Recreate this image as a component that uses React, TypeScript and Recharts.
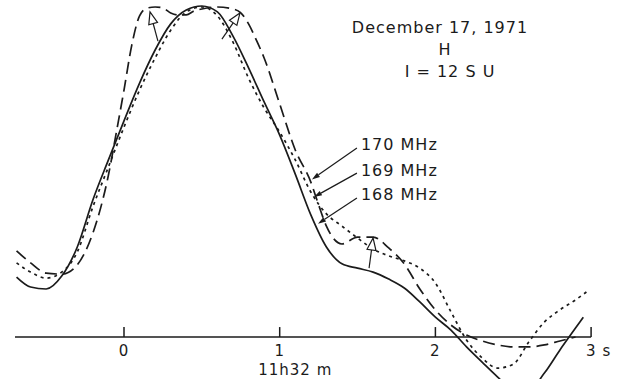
import React from 'react';
import {
    LineChart,
    Line,
    XAxis,
    YAxis,
    ReferenceLine,
    ReferenceDot
} from 'recharts';

// time after 11h32m (s) and relative intensity
const time168 = [-0.69, -0.6, -0.5, -0.4, -0.3, -0.2, -0.1, 0, 0.1, 0.2, 0.3, 0.4, 0.5, 0.6, 0.7, 0.8, 0.9, 1.0, 1.1, 1.2, 1.3, 1.4, 1.5, 1.6, 1.7, 1.8, 1.9, 2.0, 2.1, 2.2, 2.3, 2.4, 2.5, 2.6, 2.7, 2.8, 2.9, 2.95];
const mhz168 = [18.1, 15.1, 14.5, 18.4, 27.2, 41.4, 53.5, 65.3, 76.7, 86.7, 94.6, 98.8, 100, 98.2, 90.9, 81.3, 71.0, 61.0, 49.2, 36.9, 27.2, 22.1, 20.8, 19.6, 17.5, 14.8, 10.6, 6.0, 2.1, -3.0, -7.6, -12.1, -16.0, -16.0, -10.9, -3.9, 2.7, 6.0];

const time169 = [-0.69, -0.6, -0.5, -0.4, -0.3, -0.2, -0.1, 0, 0.1, 0.2, 0.3, 0.4, 0.5, 0.6, 0.7, 0.8, 0.9, 1.0, 1.1, 1.2, 1.3, 1.4, 1.5, 1.6, 1.7, 1.8, 1.9, 2.0, 2.1, 2.2, 2.3, 2.4, 2.5, 2.6, 2.7, 2.8, 2.9, 2.97];
const mhz169 = [22.4, 19.6, 17.8, 19.6, 25.7, 39.3, 51.4, 63.4, 74.6, 84.3, 92.7, 98.2, 99.7, 97.0, 89.1, 78.2, 69.2, 61.9, 53.5, 43.8, 37.2, 33.5, 29.9, 26.6, 24.5, 23.0, 20.8, 16.3, 7.6, -0.9, -6.3, -9.4, -8.2, -1.5, 4.5, 8.2, 11.2, 13.6];

const time170 = [-0.69, -0.6, -0.5, -0.4, -0.3, -0.2, -0.15, -0.1, -0.05, 0, 0.05, 0.1, 0.15, 0.2, 0.25, 0.3, 0.35, 0.4, 0.45, 0.5, 0.6, 0.7, 0.75, 0.8, 0.85, 0.9, 1.0, 1.1, 1.2, 1.25, 1.3, 1.4, 1.5, 1.6, 1.7, 1.8, 1.9, 2.0, 2.1, 2.2, 2.3, 2.4, 2.5, 2.6, 2.7, 2.8, 2.9];
const mhz170 = [26.0, 22.4, 19.3, 19.0, 21.8, 31.4, 39.0, 48.9, 61.6, 74.6, 88.2, 97.0, 99.4, 99.7, 99.4, 97.9, 97.3, 97.3, 98.5, 99.1, 99.7, 99.1, 97.9, 94.6, 89.7, 84.3, 70.4, 56.5, 46.8, 39.9, 33.5, 28.1, 30.2, 30.2, 26.9, 22.1, 14.5, 8.2, 3.6, 0.6, -1.2, -2.4, -3.0, -3.0, -2.4, -1.2, 0];

const tickValues = [0, 1, 2, 3];
const tickLabels = ['0', '1', '2', '3 s'];
const timeOrigin = '11h32 m';

const freqLabels = ['170 MHz', '169 MHz', '168 MHz'];
// leader line: label end (t, I) -> point on the curve (t, I)
const leaderFrom = [[1.496, 57.1], [1.496, 49.5], [1.496, 42.0]];
const leaderTo = [[1.207, 47.6], [1.22, 42.3], [1.246, 34.2]];

// open arrows marking the maxima
const peakArrowFrom = [[0.218, 89.4], [0.629, 90.0], [1.574, 20.8]];
const peakArrowTo = [[0.167, 98.2], [0.745, 97.9], [1.6, 29.9]];

const titleLines = ['December 17, 1971', 'H', 'I = 12 S U'];

const FONT = '"DejaVu Sans", sans-serif';
const INK = '#1b1b1b';

const zip = (ts: number[], vs: number[]) => ts.map((t, i) => ({ t, v: vs[i] }));

function leaderShape(label: string) {
    return (p: any) => {
        const { x1, y1, x2, y2 } = p;
        const a = Math.atan2(y2 - y1, x2 - x1);
        const c = Math.cos(a), s = Math.sin(a);
        const bx = x2 - 8 * c, by = y2 - 8 * s;
        const pts = `${x2},${y2} ${bx - 2.5 * s},${by + 2.5 * c} ${bx + 2.5 * s},${by - 2.5 * c}`;
        return (
            <g>
                <line x1={x1} y1={y1} x2={bx} y2={by} stroke={INK} strokeWidth={1.2} />
                <polygon points={pts} fill={INK} />
                <text x={x1 + 4} y={y1 - 3} dominantBaseline="central" fontFamily={FONT} fontSize={16} letterSpacing={1} fill={INK}>{label}</text>
            </g>
        );
    };
}

function openArrowShape(p: any) {
    const { x1, y1, x2, y2 } = p;
    const a = Math.atan2(y2 - y1, x2 - x1);
    const c = Math.cos(a), s = Math.sin(a);
    const bx = x2 - 12 * c, by = y2 - 12 * s;
    const pts = `${x2},${y2} ${bx - 4.5 * s},${by + 4.5 * c} ${bx + 4.5 * s},${by - 4.5 * c}`;
    return (
        <g>
            <line x1={x1} y1={y1} x2={bx} y2={by} stroke={INK} strokeWidth={1.2} />
            <polygon points={pts} fill="#fff" stroke={INK} strokeWidth={1.2} />
        </g>
    );
}

function tickShape(label: string) {
    return (p: any) => {
        const { x1, y1, x2, y2 } = p;
        const start = label.length > 1;
        return (
            <g>
                <line x1={x1} y1={y1} x2={x2} y2={y2} stroke={INK} strokeWidth={1.5} />
                <text x={start ? x1 - 5 : x1} y={y1 + 14} textAnchor={start ? 'start' : 'middle'} dominantBaseline="central" fontFamily={FONT} fontSize={15} letterSpacing={1} fill={INK}>{label}</text>
            </g>
        );
    };
}

export default function App() {
    const d168 = zip(time168, mhz168);
    const d169 = zip(time169, mhz169);
    const d170 = zip(time170, mhz170);

    return (
        <div style={{ position: 'absolute', left: 0, top: 0, width: 622, height: 379, background: '#fff' }}>
            <LineChart width={622} height={379} margin={{ top: 0, right: 0, bottom: 0, left: 0 }}>
                <XAxis type="number" dataKey="t" domain={[-0.7964, 3.1985]} hide allowDataOverflow />
                <YAxis type="number" dataKey="v" domain={[-12.69, 101.81]} hide allowDataOverflow />

                <ReferenceLine segment={[{ x: -0.7, y: 0 }, { x: 3, y: 0 }]} stroke={INK} strokeWidth={1.6} />
                {tickValues.map((t, i) => (
                    <ReferenceLine key={'tk' + t} segment={[{ x: t, y: 0 }, { x: t, y: 3 }]} shape={tickShape(tickLabels[i])} />
                ))}
                <ReferenceDot x={1.1} y={0} r={0} shape={(p: any) => (
                    <text x={p.cx} y={p.cy + 33} textAnchor="middle" dominantBaseline="central" fontFamily={FONT} fontSize={15} letterSpacing={1} fill={INK}>{timeOrigin}</text>
                )} />

                <Line data={d168} dataKey="v" type="monotone" stroke={INK} strokeWidth={1.7} dot={false} activeDot={false} isAnimationActive={false} />
                <Line data={d169} dataKey="v" type="monotone" stroke={INK} strokeWidth={1.7} strokeDasharray="3 4" dot={false} activeDot={false} isAnimationActive={false} />
                <Line data={d170} dataKey="v" type="monotone" stroke={INK} strokeWidth={1.7} strokeDasharray="12 6" dot={false} activeDot={false} isAnimationActive={false} />

                {freqLabels.map((lab, i) => (
                    <ReferenceLine key={lab} segment={[{ x: leaderFrom[i][0], y: leaderFrom[i][1] }, { x: leaderTo[i][0], y: leaderTo[i][1] }]} shape={leaderShape(lab)} />
                ))}
                {peakArrowFrom.map((f, i) => (
                    <ReferenceLine key={'pa' + i} segment={[{ x: f[0], y: f[1] }, { x: peakArrowTo[i][0], y: peakArrowTo[i][1] }]} shape={openArrowShape} />
                ))}
            </LineChart>
            {titleLines.map((txt, i) => (
                <div key={txt} style={{
                    position: 'absolute', left: 340 + i * 5, top: 18 + i * 22, width: 200, textAlign: 'center',
                    fontFamily: FONT, fontSize: 16, letterSpacing: 1, color: INK, lineHeight: '20px'
                }}>{txt}</div>
            ))}
        </div>
    );
}
